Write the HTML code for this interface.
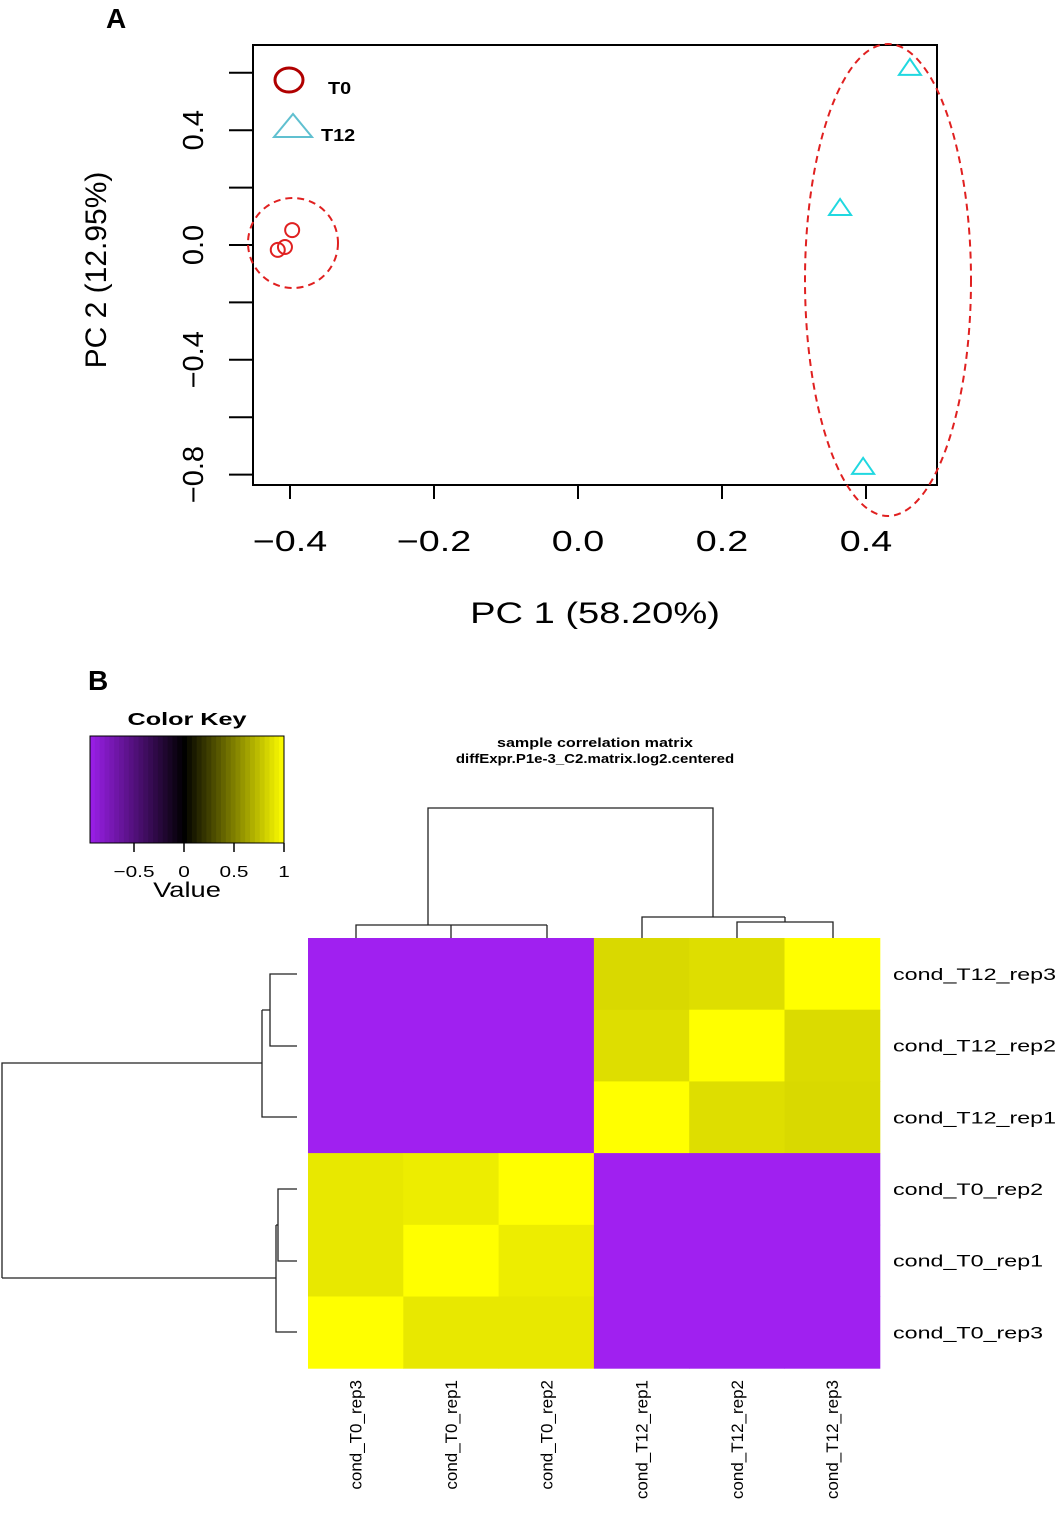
<!DOCTYPE html>
<html><head><meta charset="utf-8"><style>
html,body{margin:0;padding:0;background:#fff;}
svg{display:block;font-family:"Liberation Sans",Arial,sans-serif;}
</style></head><body>
<svg id="fig" width="1063" height="1513" viewBox="0 0 1063 1513">
<text x="106" y="28" font-size="28" font-weight="bold">A</text>
<text x="88" y="690" font-size="28" font-weight="bold">B</text>
<g id="pca"></g>
<g id="heat"></g>
</svg>
<script>
// ---- PCA data ----
const t0X = [-0.417, -0.407, -0.397];
const t0Y = [-0.017, -0.007, 0.052];
const t12X = [0.461, 0.364, 0.396];
const t12Y = [0.617, 0.129, -0.773];
const xTicks = [-0.4, -0.2, 0.0, 0.2, 0.4];
const xTickLabels = ["\u22120.4", "\u22120.2", "0.0", "0.2", "0.4"];
const yTicks = [0.6, 0.4, 0.2, 0.0, -0.2, -0.4, -0.6, -0.8];
const yTickLabels = ["", "0.4", "", "0.0", "", "\u22120.4", "", "\u22120.8"];

// ---- Heatmap data ----
const colLabels = ["cond_T0_rep3","cond_T0_rep1","cond_T0_rep2","cond_T12_rep1","cond_T12_rep2","cond_T12_rep3"];
const rowLabels = ["cond_T12_rep3","cond_T12_rep2","cond_T12_rep1","cond_T0_rep2","cond_T0_rep1","cond_T0_rep3"];
const corrRow0 = [-0.97,-0.97,-0.97,0.85,0.87,1.0];
const corrRow1 = [-0.97,-0.97,-0.97,0.87,1.0,0.86];
const corrRow2 = [-0.97,-0.97,-0.97,1.0,0.87,0.85];
const corrRow3 = [0.91,0.93,1.0,-0.97,-0.97,-0.97];
const corrRow4 = [0.91,1.0,0.93,-0.97,-0.97,-0.97];
const corrRow5 = [1.0,0.91,0.91,-0.97,-0.97,-0.97];
const corrMatrix = [corrRow0,corrRow1,corrRow2,corrRow3,corrRow4,corrRow5];
const keyTicks = [-0.5, 0, 0.5, 1];
const keyTickLabels = ["\u22120.5", "0", "0.5", "1"];

const NS = "http://www.w3.org/2000/svg";
function mk(parent, tag, attrs, text){
  const e = document.createElementNS(NS, tag);
  for (const k in attrs) e.setAttribute(k, attrs[k]);
  if (text !== undefined) e.textContent = text;
  parent.appendChild(e); return e;
}
// horizontally stretched text (reference glyphs are wider)
function stxt(parent, x, y, k, attrs, text){
  attrs.x = 0; attrs.y = 0;
  attrs.transform = `translate(${x},${y}) scale(${k},1)`;
  return mk(parent, 'text', attrs, text);
}
const pca = document.getElementById('pca');
const sx = v => 578 + v * 720;
const sy = v => 245 - v * 287;

let e = mk(pca,'rect',{x:253,y:45,width:684,height:440,fill:'none',stroke:'#000','stroke-width':2});


xTicks.forEach((t,i)=>{
  let l = mk(pca,'line',{x1:sx(t),x2:sx(t),y1:485,y2:499,stroke:'#000','stroke-width':2});
  
  
  let tx = stxt(pca,sx(t),551,1.3,{'font-size':29,'text-anchor':'middle'},xTickLabels[i]);
  
  
});
yTicks.forEach((t,i)=>{
  let l = mk(pca,'line',{x1:229,x2:253,y1:sy(t),y2:sy(t),stroke:'#000','stroke-width':2});
  
  
  if (yTickLabels[i]) {
    let tx = mk(pca,'text',{x:0,y:0,'font-size':29,'text-anchor':'middle',transform:`translate(203,${sy(t)}) rotate(-90)`},yTickLabels[i]);
    
    
  }
});
e = stxt(pca,595,623,1.27,{'font-size':30,'text-anchor':'middle'},'PC 1 (58.20%)');


e = mk(pca,'text',{x:0,y:0,'font-size':30,'text-anchor':'middle',transform:'translate(106,270) rotate(-90)'},'PC 2 (12.95%)');



// legend
e = mk(pca,'ellipse',{cx:289,cy:80,rx:14,ry:12,fill:'none',stroke:'#b00000','stroke-width':3});


e = stxt(pca,328,94,1.1,{'font-size':18,'font-weight':'bold'},'T0');


e = mk(pca,'polygon',{points:'274,137 293,114 312,137',fill:'none',stroke:'#60c0d0','stroke-width':2});


e = stxt(pca,321,141,1.1,{'font-size':18,'font-weight':'bold'},'T12');



// points
t0X.forEach((v,i)=>{
  let c = mk(pca,'circle',{cx:sx(v),cy:sy(t0Y[i]),r:7,fill:'none',stroke:'#e02020','stroke-width':2});
  
  
});
t12X.forEach((v,i)=>{
  const x=sx(v), y=sy(t12Y[i]);
  let p = mk(pca,'polygon',{points:`${x-11},${y+7} ${x},${y-9} ${x+11},${y+7}`,fill:'none',stroke:'#20d8e0','stroke-width':2});
  
  
});
e = mk(pca,'circle',{cx:293,cy:243,r:45,fill:'none',stroke:'#e02020','stroke-width':2,'stroke-dasharray':'7,5'});


e = mk(pca,'ellipse',{cx:888,cy:280,rx:83,ry:236,fill:'none',stroke:'#e02020','stroke-width':2,'stroke-dasharray':'7,5'});



// ---- Heatmap ----
const heat = document.getElementById('heat');
function col(v){
  if (v < 0) { const a = Math.min(1,-v/0.94*0.97); return `rgb(${Math.round(160*a)},${Math.round(32*a)},${Math.round(240*a)})`; }
  return `rgb(${Math.round(255*v)},${Math.round(255*v)},0)`;
}
const hx0=308, hy0=938, cw=95.3, ch=71.7;
corrMatrix.forEach((row,r)=>row.forEach((v,c)=>{
  let rc = mk(heat,'rect',{x:hx0+c*cw,y:hy0+r*ch,width:cw+0.5,height:ch+0.5,fill:col(v)});
  
  
}));
rowLabels.forEach((s,r)=>{
  let t = stxt(heat,893,hy0+r*ch+ch/2+6,1.37,{'font-size':17},s);
  
  
});
colLabels.forEach((s,c)=>{
  const x = hx0+c*cw+cw/2+6;
  let t = mk(heat,'text',{x:0,y:0,'font-size':17,'text-anchor':'end',transform:`translate(${x},1380) rotate(-90)`},s);
  
  
});
e = stxt(heat,595,747,1.29,{'font-size':12.5,'font-weight':'bold','text-anchor':'middle'},'sample correlation matrix');


e = stxt(heat,595,763,1.2,{'font-size':12.5,'font-weight':'bold','text-anchor':'middle'},'diffExpr.P1e-3_C2.matrix.log2.centered');



// dendrograms
const dpaths = [
 'M356,938 V925 H500 M451,938 V925 M547,938 V925 M451,925 H547 M428,925 V808 H713 V917 M642,938 V917 H785 M737,938 V922 H833 V938 M785,922 V917',
 'M297,974 H270 V1046 H297 M270,1010 H262 M297,1117 H262 V1010 M262,1063 H2 V1278 M297,1189 H278 V1261 H297 M278,1225 H276 M297,1332 H276 V1225 M276,1278 H2'
];
dpaths.forEach((d,i)=>{
  let p = mk(heat,'path',{d:d,fill:'none',stroke:'#222','stroke-width':1.3});
  
  
});

// color key
const kx = v => 184 + v*100;
for (let i=0;i<40;i++){
  const v0 = -0.94 + i*(1.94/40);
  let r = mk(heat,'rect',{x:kx(v0),y:736,width:1.94*100/40+0.5,height:107,fill:col(v0+0.024)});
  
  
}
e = mk(heat,'rect',{x:90,y:736,width:194,height:107,fill:'none',stroke:'#000','stroke-width':1});


keyTicks.forEach((t,i)=>{
  let l = mk(heat,'line',{x1:kx(t),x2:kx(t),y1:843,y2:852,stroke:'#000','stroke-width':1.5});
  
  
  let tx = stxt(heat,kx(t),877,1.3,{'font-size':16,'text-anchor':'middle'},keyTickLabels[i]);
  
  
});
e = stxt(heat,187,897,1.3,{'font-size':21,'text-anchor':'middle'},'Value');


e = stxt(heat,187,725,1.4,{'font-size':18,'font-weight':'bold','text-anchor':'middle'},'Color Key');


</script>
</body></html>
